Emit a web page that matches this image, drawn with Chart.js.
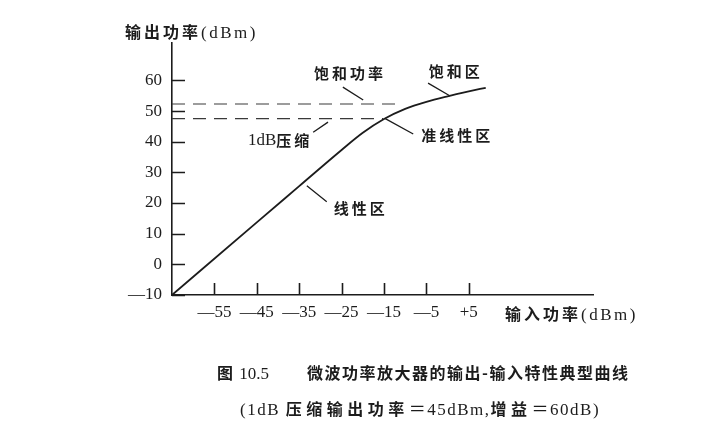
<!DOCTYPE html>
<html>
<head>
<meta charset="utf-8">
<script src="https://cdn.jsdelivr.net/npm/chart.js@4.4.0/dist/chart.umd.min.js"></script>
<style>
  html, body { margin: 0; padding: 0; background: #fff; }
  #wrap { position: relative; width: 728px; height: 445px; overflow: hidden; }
  #chart { position: absolute; left: 0; top: 0; }
  .txt {
    position: absolute;
    white-space: nowrap;
    color: #1c1c1c;
    font-family: "Liberation Serif", "Noto Sans CJK SC", serif;
    font-size: 17px;
    line-height: 17px;
  }
  .cjk { font-family: "Noto Sans CJK SC", sans-serif; font-weight: bold; font-size: 16px; letter-spacing: 2px; }
  .wide { letter-spacing: 1.5px; }
  .wide .cjk { letter-spacing: 4.5px; }
</style>
</head>
<body>
<div id="wrap">
  <canvas id="chart" width="728" height="445"></canvas>
  <div class="txt" style="left:125px; top:23px; letter-spacing:2.5px;"><span class="cjk" style="letter-spacing:3px;">输出功率</span>(dBm)</div>
  <div class="txt" style="left:505px; top:305px; letter-spacing:2.5px;"><span class="cjk" style="letter-spacing:3px;">输入功率</span>(dBm)</div>
  <div class="txt" style="left:217px; top:364px;"><span class="cjk">图</span> 10.5</div>
  <div class="txt" style="left:307px; top:364px;"><span class="cjk" style="letter-spacing:1.5px;">微波功率放大器的输出-输入特性典型曲线</span></div>
  <div class="txt wide" style="left:240px; top:400px;">(1dB <span class="cjk">压缩输出功率</span>＝45dBm,<span class="cjk">增益</span>＝60dB)</div>
</div>
<script>
// curve (dBm)
const inputPower = [-65, -45, -35, -25, -20, -15, -10, -5, 0, 5, 9];
const outputPower = [-10, 13.7, 25.5, 37.3, 42.9, 47.4, 50.7, 53.0, 54.8, 56.4, 57.6];

const xTicks = [-55, -45, -35, -25, -15, -5, 5];
const xTickLabels = ["—55", "—45", "—35", "—25", "—15", "—5", "+5"];
const yTicks = [-10, 0, 10, 20, 30, 40, 50, 60];
const yTickLabels = ["—10", "0", "10", "20", "30", "40", "50", "60"];

// dashed reference levels: saturation power, 1dB compression
const refLevels = [52.3, 47.5];
const refLineEnds = [-12.4, -15.2];

// callout labels, anchored in data units
const notes = [
  { parts: [["饱和功率", true]], at: [-23.0, 62.2], from: [-24.7, 57.8], to: [-19.9, 53.6] },
  { parts: [["饱和区", true]], at: [1.9, 62.9], from: [-4.6, 59.1], to: [0.6, 54.9] },
  { parts: [["1dB", false], ["压缩", true]], at: [-39.5, 40.3], from: [-31.7, 43.1], to: [-28.2, 46.4] },
  { parts: [["准线性区", true]], at: [2.3, 42.2], from: [-14.8, 47.6], to: [-8.1, 42.5] },
  { parts: [["线性区", true]], at: [-20.5, 18.2], from: [-33.2, 25.6], to: [-28.5, 20.4] },
];

const INK = "#1c1c1c";

const decor = {
  id: "decor",
  afterDraw(chart) {
    const ctx = chart.ctx;
    const xs = chart.scales.x, ys = chart.scales.y;
    const area = chart.chartArea;
    ctx.save();
    ctx.strokeStyle = INK;
    ctx.lineWidth = 1.6;
    // tick marks drawn inward
    ctx.beginPath();
    yTicks.forEach((v) => {
      const py = Math.round(ys.getPixelForValue(v)) + 0.5;
      ctx.moveTo(area.left, py);
      ctx.lineTo(area.left + 13, py);
    });
    xTicks.forEach((v) => {
      const px = Math.round(xs.getPixelForValue(v)) + 0.5;
      ctx.moveTo(px, area.bottom);
      ctx.lineTo(px, area.bottom - 12);
    });
    ctx.stroke();

    // leader lines
    ctx.lineWidth = 1.3;
    ctx.beginPath();
    notes.forEach((n) => {
      ctx.moveTo(xs.getPixelForValue(n.from[0]), ys.getPixelForValue(n.from[1]));
      ctx.lineTo(xs.getPixelForValue(n.to[0]), ys.getPixelForValue(n.to[1]));
    });
    ctx.stroke();

    // callout text
    ctx.fillStyle = INK;
    ctx.textBaseline = "middle";
    ctx.textAlign = "left";
    notes.forEach((n) => {
      const fonts = n.parts.map((p) =>
        p[1] ? 'bold 15px "Noto Sans CJK SC", sans-serif' : '17px "Liberation Serif", serif'
      );
      let total = 0;
      const widths = n.parts.map((p, i) => {
        ctx.font = fonts[i];
        ctx.letterSpacing = p[1] ? "3px" : "0px";
        const w = ctx.measureText(p[0]).width;
        total += w;
        return w;
      });
      let x = xs.getPixelForValue(n.at[0]) - total / 2;
      const y = ys.getPixelForValue(n.at[1]);
      n.parts.forEach((p, i) => {
        ctx.font = fonts[i];
        ctx.letterSpacing = p[1] ? "3px" : "0px";
        ctx.fillText(p[0], x, y);
        x += widths[i];
      });
    });
    ctx.restore();
  },
};

new Chart(document.getElementById("chart"), {
  type: "line",
  data: {
    datasets: [
      {
        data: inputPower.map((x, i) => ({ x, y: outputPower[i] })),
        borderColor: INK,
        borderWidth: 1.8,
        pointRadius: 0,
        cubicInterpolationMode: "monotone",
        fill: false,
      },
      ...refLevels.map((lvl, i) => ({
        data: [{ x: -65, y: lvl }, { x: refLineEnds[i], y: lvl }],
        borderColor: "#3a3a3a",
        borderWidth: 1.2,
        borderDash: [13, 8],
        pointRadius: 0,
        fill: false,
      })),
    ],
  },
  options: {
    responsive: false,
    animation: false,
    devicePixelRatio: 1,
    layout: { padding: { left: 0, top: 43, right: 135, bottom: 0 } },
    plugins: { legend: { display: false }, tooltip: { enabled: false } },
    scales: {
      x: {
        type: "linear",
        min: -65,
        max: 34.3,
        afterFit: (s) => { s.height = 150; },
        afterBuildTicks: (s) => { s.ticks = xTicks.map((v) => ({ value: v })); },
        grid: { display: false, drawTicks: false },
        border: { display: true, color: INK, width: 1.6 },
        ticks: {
          autoSkip: false,
          maxRotation: 0,
          padding: 7,
          color: INK,
          font: { family: '"Liberation Serif", serif', size: 17 },
          callback: (v) => xTickLabels[xTicks.indexOf(v)],
        },
      },
      y: {
        min: -10,
        max: 72.2,
        afterFit: (s) => { s.width = 172; },
        afterBuildTicks: (s) => { s.ticks = yTicks.map((v) => ({ value: v })); },
        grid: { display: false, drawTicks: false },
        border: { display: true, color: INK, width: 1.6 },
        ticks: {
          padding: 10,
          color: INK,
          font: { family: '"Liberation Serif", serif', size: 17 },
          callback: (v) => yTickLabels[yTicks.indexOf(v)],
        },
      },
    },
  },
  plugins: [decor],
});
</script>
</body>
</html>
